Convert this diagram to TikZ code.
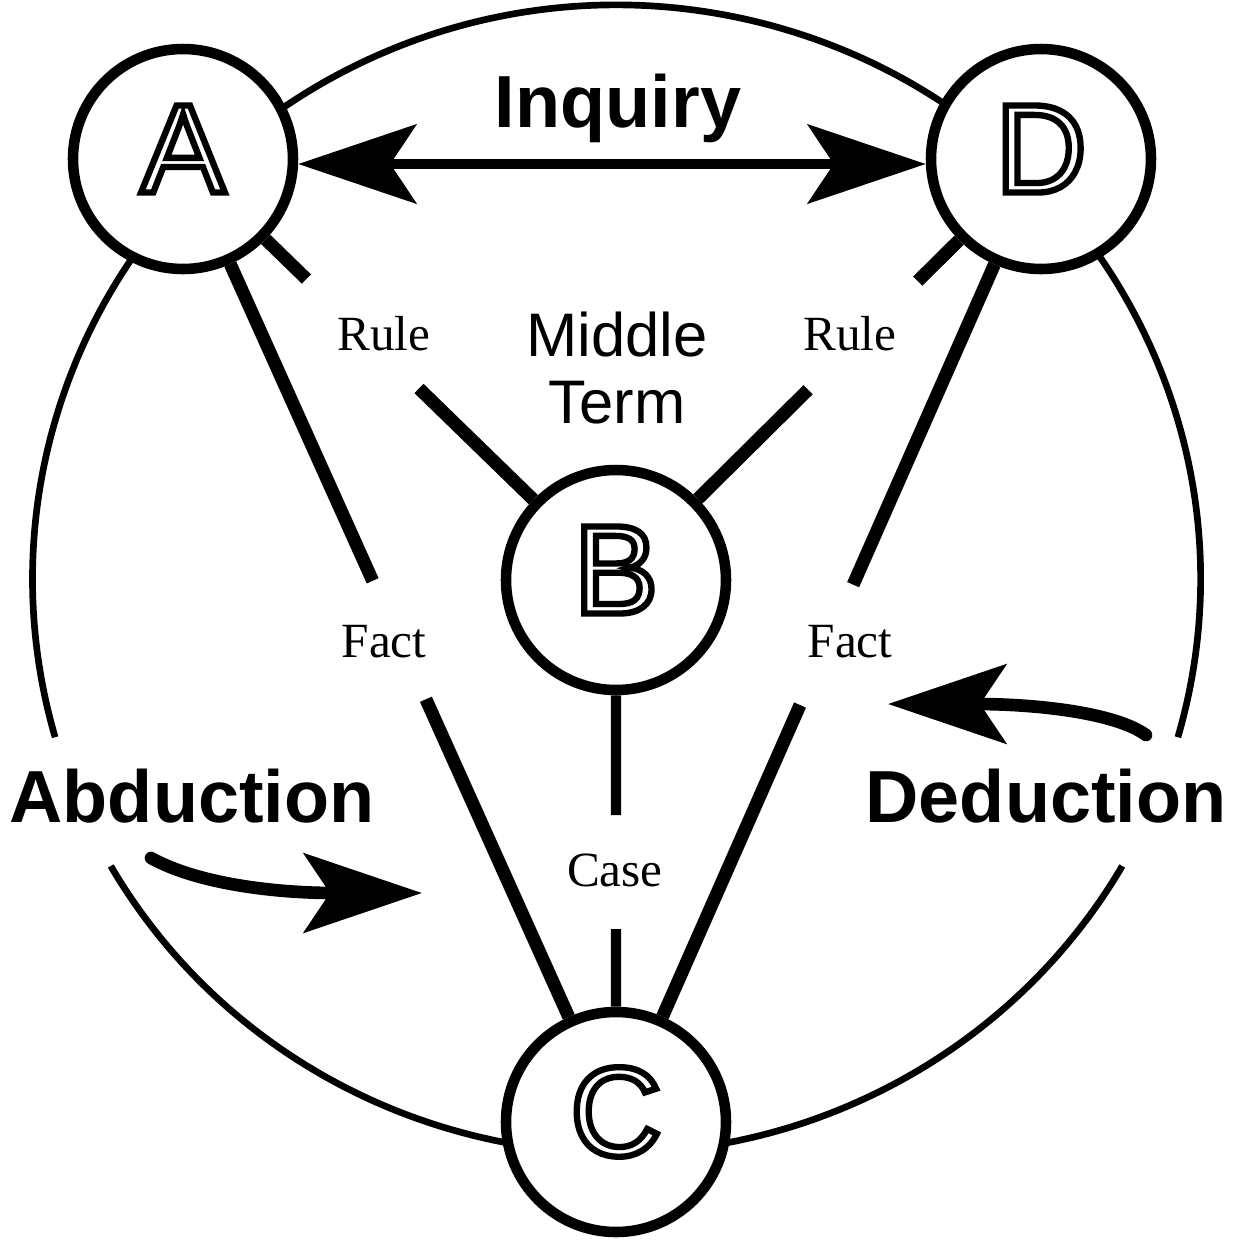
\documentclass[tikz,border=0pt]{standalone}
\usepackage{fontspec}
\setmainfont{Liberation Serif}
\setsansfont{Liberation Sans}
\usetikzlibrary{arrows.meta,calc}

% stroke the glyph outline instead of filling it
\newcommand\hollow[1]{\special{pdf:literal direct 1 Tr 1.8 w}#1\special{pdf:literal direct 0 Tr}}

\begin{document}
\begin{tikzpicture}[>={Stealth[length=11.8mm, width=7.9mm, inset=2.6mm]},
    stage/.style={circle, draw, line width=3pt, fill=white, minimum size=2.2cm,
      inner sep=0pt, text height=0.91cm, text depth=0.24cm,
      font=\sffamily\fontsize{36}{36}\selectfont},
    ring/.style={line width=1.9pt},
    heavy/.style={line width=3.7pt},
    light/.style={line width=2.9pt},
    term/.style={anchor=base, font=\fontsize{14}{14}\selectfont},
    mode/.style={anchor=base, font=\sffamily\bfseries\fontsize{21}{24}\selectfont},
    swing/.style={->, line width=3.6pt, line cap=round}]
  \useasboundingbox (0,0) rectangle (12.52,-12.46);
  \coordinate (O) at (6.165,-5.79);

  % outer ring, open beside the two mode names
  \draw[ring] (O) ++(-16:5.84 and 5.74) arc[start angle=-16, end angle=196, x radius=5.84, y radius=5.74];
  \draw[ring] (O) ++(210:5.84 and 5.74) arc[start angle=210, end angle=330, x radius=5.84, y radius=5.74];

  \node[stage] (A) at (1.83,-1.59) {\hollow{A}};
  \node[stage] (D) at (10.41,-1.59) {\hollow{D}};
  \node[stage] (B) at (6.16,-5.80) {\hollow{B}};
  \node[stage] (C) at (6.16,-11.22) {\hollow{C}};

  \draw[light, <->] ([yshift=-0.05cm]A.east) -- ([yshift=-0.05cm]D.west);
  \node[mode] (inquiry) at (6.18,-1.27) {Inquiry};

  % spokes, broken where the labels sit
  \draw[heavy] (A) -- ($(A)!0.285!(B)$);
  \draw[heavy] ($(A)!0.545!(B)$) -- (B);
  \draw[heavy] (D) -- ($(D)!0.29!(B)$);
  \draw[heavy] ($(D)!0.548!(B)$) -- (B);
  \draw[heavy] (A) -- ($(A)!0.438!(C)$);
  \draw[heavy] ($(A)!0.561!(C)$) -- (C);
  \draw[heavy] (D) -- ($(D)!0.442!(C)$);
  \draw[heavy] ($(D)!0.567!(C)$) -- (C);
  \draw[light] (B) -- ($(B)!0.434!(C)$);
  \draw[light] ($(B)!0.644!(C)$) -- (C);

  \node[term] (ruleA) at (3.84,-3.50) {Rule};
  \node[term] (ruleD) at (8.50,-3.50) {Rule};
  \node[term] (factA) at (3.84,-6.57) {Fact};
  \node[term] (factD) at (8.50,-6.57) {Fact};
  \node[term] (case) at (6.15,-8.86) {Case};
  \node[align=center, font=\sffamily\fontsize{17.5}{19}\selectfont] (middle) at (6.17,-3.68) {Middle\\Term};

  \node[mode] (abduction) at (1.92,-8.22) {Abduction};
  \node[mode] (deduction) at (10.46,-8.22) {Deduction};

  \coordinate (abtail) at (1.51,-8.58);
  \coordinate (abtip) at (4.22,-8.93);
  \draw[swing] (abtail) .. controls +(0.49,-0.27) and +(-1.42,0) .. (abtip);
  \coordinate (detail) at (11.46,-7.35);
  \coordinate (detip) at (8.88,-7.04);
  \draw[swing] (detail) .. controls +(-0.3,0.22) and +(1.5,0) .. (detip);
\end{tikzpicture}
\end{document}
